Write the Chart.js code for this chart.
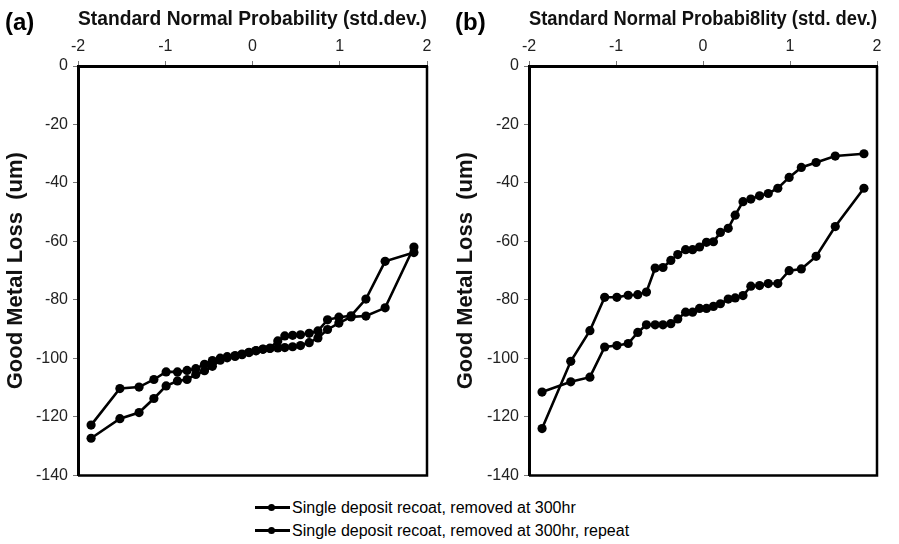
<!DOCTYPE html>
<html>
<head>
<meta charset="utf-8">
<script src="https://cdn.jsdelivr.net/npm/chart.js@4/dist/chart.umd.min.js"></script>
<style>
  body { margin: 0; background: #fff; width: 899px; height: 544px; overflow: hidden; position: relative; font-family: 'Liberation Sans', Arial, sans-serif; }
  canvas { position: absolute; top: 0; }
  #chartA { left: 0; }
  #chartB { left: 450px; }
  .tag { position: absolute; top: 8px; font-weight: bold; font-size: 24px; color: #000; }
  #legend { position: absolute; left: 255px; top: 496px; font-size: 16px; color: #000; }
  .row { height: 23px; line-height: 23px; white-space: nowrap; }
  .icon { display: inline-block; position: relative; width: 35px; height: 23px; vertical-align: top; margin-right: 2px; }
  .icon:before { content: ''; position: absolute; left: 0; right: 0; top: 10px; height: 3px; background: #000; }
  .icon:after { content: ''; position: absolute; left: 13px; top: 8px; width: 7px; height: 7px; border-radius: 50%; background: #000; }
</style>
</head>
<body>
<canvas id="chartA" width="449" height="490"></canvas>
<canvas id="chartB" width="449" height="490"></canvas>
<div class="tag" style="left:5px">(a)</div>
<div class="tag" style="left:455px">(b)</div>
<div id="legend"></div>
<script>
// standard normal positions (std.dev.) of the 30 ranked points
const probX = [-1.85, -1.52, -1.30, -1.13, -0.99, -0.86, -0.75, -0.65, -0.55, -0.46,
               -0.37, -0.29, -0.20, -0.12, -0.04, 0.04, 0.12, 0.20, 0.29, 0.37,
               0.46, 0.55, 0.65, 0.75, 0.86, 0.99, 1.13, 1.30, 1.52, 1.85];

// panel (a)
const aRun = [-122.8, -110.3, -109.8, -107.2, -104.6, -104.6, -104.1, -103.5, -102.0, -100.7,
              -99.9, -99.4, -99.0, -98.5, -97.9, -97.3, -96.8, -96.6, -96.4, -96.3,
              -96.0, -95.6, -94.6, -93.0, -90.1, -87.9, -85.8, -85.5, -82.7, -61.9];
const aRepeat = [-127.3, -120.6, -118.5, -113.7, -109.4, -107.7, -107.2, -105.5, -104.2, -102.7,
                 -100.6, -99.8, -99.3, -98.7, -98.0, -97.4, -96.9, -96.5, -94.0, -92.3,
                 -92.1, -91.9, -91.4, -90.6, -86.8, -85.9, -85.4, -79.7, -66.8, -63.8];

// panel (b)
const bRun = [-111.5, -108.0, -106.4, -96.1, -95.6, -94.9, -91.1, -88.5, -88.5, -88.5,
              -88.1, -86.5, -84.2, -84.2, -82.9, -82.9, -82.2, -81.3, -79.7, -79.3,
              -78.5, -75.3, -75.1, -74.4, -74.4, -70.0, -69.4, -65.1, -54.9, -41.8];
const bRepeat = [-124.0, -101.0, -90.5, -79.1, -79.1, -78.4, -78.2, -77.3, -69.1, -68.9,
                 -66.5, -64.5, -62.8, -62.8, -61.9, -60.3, -60.1, -56.9, -55.5, -51.0,
                 -46.4, -45.5, -44.4, -43.6, -41.8, -38.1, -34.7, -33.0, -30.8, -30.0];

const seriesNames = ['Single deposit recoat, removed at 300hr', 'Single deposit recoat, removed at 300hr, repeat'];
const xTicks = [-2, -1, 0, 1, 2];
const yTicks = [0, -20, -40, -60, -80, -100, -120, -140];

Chart.defaults.font.family = "'Liberation Sans', Arial, sans-serif";
Chart.defaults.color = '#222';

const pts = ys => probX.map((x, i) => ({x: x, y: ys[i]}));

const frame = {
  id: 'frame',
  afterDatasetsDraw(chart) {
    const a = chart.chartArea, c = chart.ctx;
    c.save();
    c.strokeStyle = '#000';
    c.lineWidth = 2.5;
    c.beginPath();
    c.moveTo(a.left, a.bottom); c.lineTo(a.right, a.bottom); c.lineTo(a.right, a.top);
    c.stroke();
    c.restore();
  }
};

function makePanel(id, title, run, repeat, yw) {
  new Chart(document.getElementById(id), {
    type: 'scatter',
    data: {
      datasets: [run, repeat].map((ys, i) => ({
        label: seriesNames[i],
        data: pts(ys),
        showLine: true,
        borderColor: '#000',
        borderWidth: 2.6,
        backgroundColor: '#000',
        pointRadius: 4.6,
        pointBorderWidth: 0,
        pointBackgroundColor: '#000'
      }))
    },
    options: {
      responsive: false,
      animation: false,
      devicePixelRatio: 1,
      layout: { padding: { left: 0, top: 0, right: 22, bottom: 14 } },
      plugins: { legend: { display: false }, tooltip: { enabled: false } },
      scales: {
        x: {
          type: 'linear', position: 'top', min: -2, max: 2,
          afterBuildTicks: s => { s.ticks = xTicks.map(v => ({value: v})); },
          afterFit: s => { s.height = 66; },
          ticks: { font: { size: 16 }, padding: 5, color: '#222' },
          grid: { drawOnChartArea: false, drawTicks: true, tickLength: 5, color: '#777' },
          border: { display: true, color: '#000', width: 3 },
          title: { display: true, text: title, font: { size: 20, weight: 'bold' }, color: '#111', padding: { top: 7, bottom: 0 } }
        },
        y: {
          type: 'linear', position: 'left', min: -140, max: 0,
          afterBuildTicks: s => { s.ticks = yTicks.map(v => ({value: v})); },
          afterFit: s => { s.width = yw; },
          ticks: { font: { size: 16 }, padding: 5, color: '#222' },
          grid: { drawOnChartArea: false, drawTicks: true, tickLength: 5, color: '#777' },
          border: { display: true, color: '#000', width: 3 },
          title: { display: true, text: 'Good Metal Loss  (um)', font: { size: 22, weight: 'bold' }, color: '#111', padding: { top: 3, bottom: 0 } }
        }
      }
    },
    plugins: [frame]
  });
}

makePanel('chartA', 'Standard Normal Probability (std.dev.)', aRun, aRepeat, 78);
makePanel('chartB', 'Standard Normal Probabi8lity (std. dev.)', bRun, bRepeat, 79);

document.getElementById('legend').innerHTML = seriesNames
  .map(n => '<div class="row"><span class="icon"></span>' + n + '</div>').join('');
</script>
</body>
</html>
